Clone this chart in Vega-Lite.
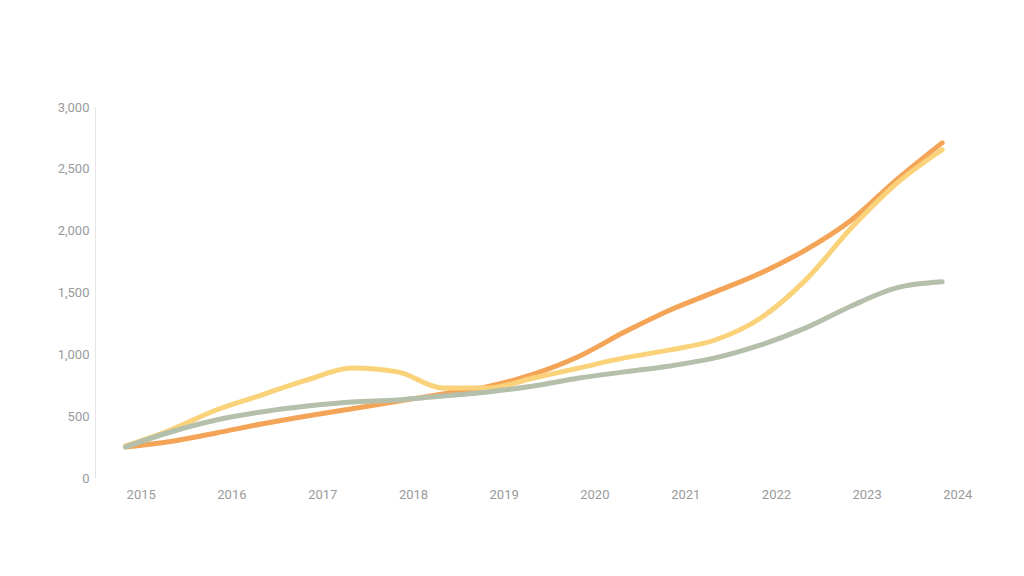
{
  "$schema": "https://vega.github.io/schema/vega-lite/v6.json",
  "width": 870,
  "height": 371,
  "autosize": "none",
  "padding": {"left": 95, "top": 107, "right": 59, "bottom": 98},
  "background": "white",
  "config": {
    "view": {"stroke": null},
    "font": "Roboto",
    "axis": {"labelColor": "#9a9a9a", "labelFontSize": 13, "grid": false, "ticks": false, "domainColor": "#e6e6e6", "title": null}
  },
  "data": {
    "values": [
      {"date": "2014-11-01", "series": "A", "value": 251},
      {"date": "2015-05-01", "series": "A", "value": 295},
      {"date": "2015-11-01", "series": "A", "value": 364},
      {"date": "2016-05-01", "series": "A", "value": 437},
      {"date": "2016-11-01", "series": "A", "value": 502},
      {"date": "2017-05-01", "series": "A", "value": 560},
      {"date": "2017-11-01", "series": "A", "value": 620},
      {"date": "2018-05-01", "series": "A", "value": 680},
      {"date": "2018-11-01", "series": "A", "value": 740},
      {"date": "2019-05-01", "series": "A", "value": 840},
      {"date": "2019-11-01", "series": "A", "value": 985},
      {"date": "2020-05-01", "series": "A", "value": 1180},
      {"date": "2020-11-01", "series": "A", "value": 1359},
      {"date": "2021-05-01", "series": "A", "value": 1505},
      {"date": "2021-11-01", "series": "A", "value": 1658},
      {"date": "2022-05-01", "series": "A", "value": 1845},
      {"date": "2022-11-01", "series": "A", "value": 2087},
      {"date": "2023-05-01", "series": "A", "value": 2411},
      {"date": "2023-11-01", "series": "A", "value": 2710},
      {"date": "2014-11-01", "series": "B", "value": 259},
      {"date": "2015-05-01", "series": "B", "value": 388},
      {"date": "2015-11-01", "series": "B", "value": 550},
      {"date": "2016-05-01", "series": "B", "value": 671},
      {"date": "2016-11-01", "series": "B", "value": 793},
      {"date": "2017-05-01", "series": "B", "value": 890},
      {"date": "2017-11-01", "series": "B", "value": 858},
      {"date": "2018-05-01", "series": "B", "value": 728},
      {"date": "2018-11-01", "series": "B", "value": 728},
      {"date": "2019-05-01", "series": "B", "value": 809},
      {"date": "2019-11-01", "series": "B", "value": 890},
      {"date": "2020-05-01", "series": "B", "value": 971},
      {"date": "2020-11-01", "series": "B", "value": 1036},
      {"date": "2021-05-01", "series": "B", "value": 1116},
      {"date": "2021-11-01", "series": "B", "value": 1294},
      {"date": "2022-05-01", "series": "B", "value": 1602},
      {"date": "2022-11-01", "series": "B", "value": 2023},
      {"date": "2023-05-01", "series": "B", "value": 2380},
      {"date": "2023-11-01", "series": "B", "value": 2654},
      {"date": "2014-11-01", "series": "C", "value": 251},
      {"date": "2015-05-01", "series": "C", "value": 372},
      {"date": "2015-11-01", "series": "C", "value": 469},
      {"date": "2016-05-01", "series": "C", "value": 534},
      {"date": "2016-11-01", "series": "C", "value": 582},
      {"date": "2017-05-01", "series": "C", "value": 615},
      {"date": "2017-11-01", "series": "C", "value": 631},
      {"date": "2018-05-01", "series": "C", "value": 663},
      {"date": "2018-11-01", "series": "C", "value": 696},
      {"date": "2019-05-01", "series": "C", "value": 744},
      {"date": "2019-11-01", "series": "C", "value": 809},
      {"date": "2020-05-01", "series": "C", "value": 858},
      {"date": "2020-11-01", "series": "C", "value": 906},
      {"date": "2021-05-01", "series": "C", "value": 971},
      {"date": "2021-11-01", "series": "C", "value": 1076},
      {"date": "2022-05-01", "series": "C", "value": 1214},
      {"date": "2022-11-01", "series": "C", "value": 1391},
      {"date": "2023-05-01", "series": "C", "value": 1537},
      {"date": "2023-11-01", "series": "C", "value": 1586}
    ]
  },
  "mark": {"type": "line", "interpolate": "monotone", "strokeWidth": 5, "strokeCap": "round", "strokeJoin": "round"},
  "encoding": {
    "x": {
      "field": "date",
      "type": "temporal",
      "scale": {"domain": ["2014-07-01", "2024-02-01"]},
      "axis": {"tickCount": {"interval": "year", "step": 1}, "format": "%Y", "labelPadding": 10, "domain": false}
    },
    "y": {
      "field": "value",
      "type": "quantitative",
      "scale": {"domain": [0, 3000]},
      "axis": {"values": [0, 500, 1000, 1500, 2000, 2500, 3000], "labelPadding": 6}
    },
    "color": {
      "field": "series",
      "type": "nominal",
      "scale": {"domain": ["C", "B", "A"], "range": ["#b4bfac", "#f9d27a", "#f4a457"]},
      "legend": null
    },
    "order": {"field": "series", "sort": "descending"}
  }
}
